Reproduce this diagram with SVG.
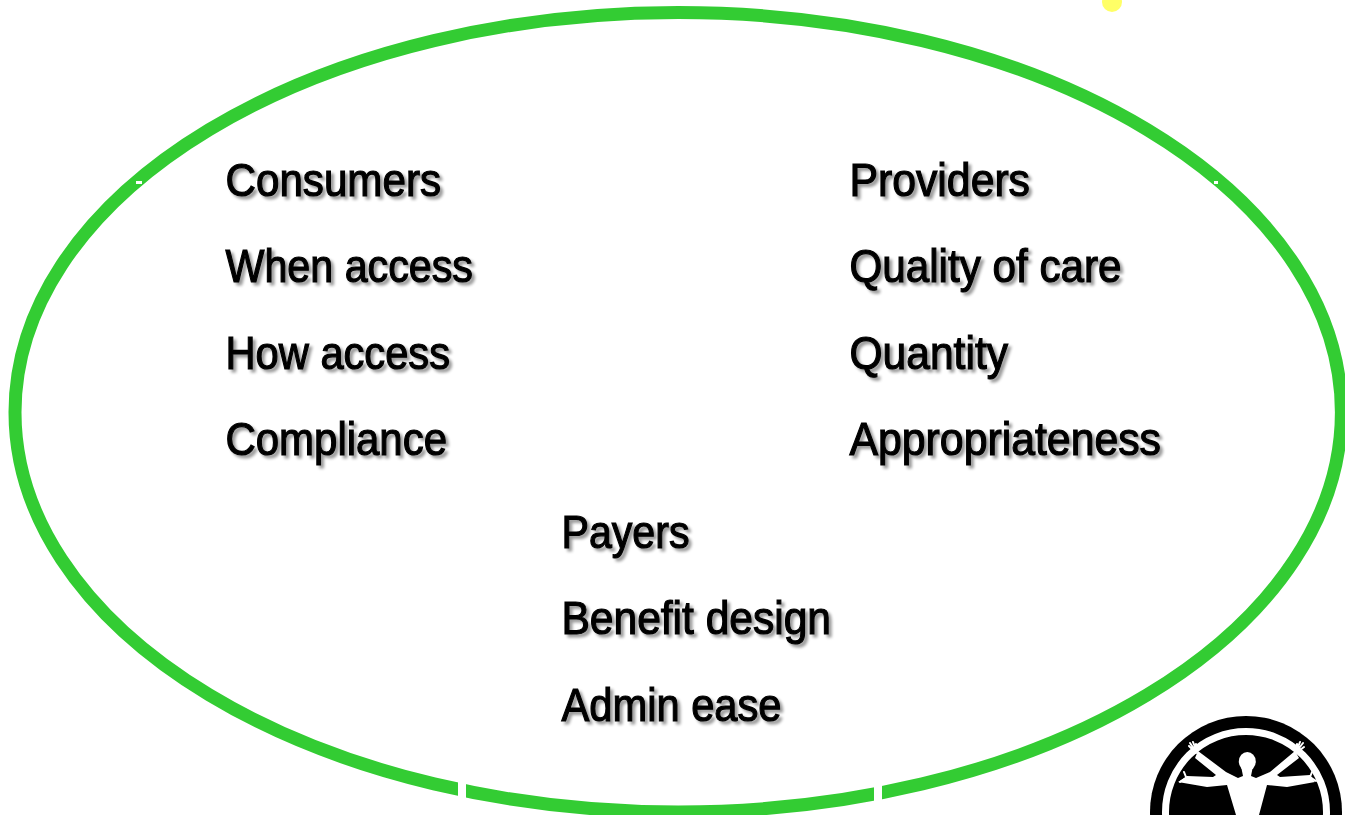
<svg xmlns="http://www.w3.org/2000/svg" width="1345" height="815" viewBox="0 0 1345 815">
<style>
.t{font-family:"Liberation Sans",Arial,sans-serif;font-size:46px;fill:#000;stroke:#000;stroke-width:1.2px;filter:url(#sh);}
.w{fill:#fff;}
.f{fill:none;stroke:#fff;stroke-width:2;stroke-linecap:round;}
</style>
<defs>
<filter id="sh" x="-10%" y="-20%" width="120%" height="150%">
<feGaussianBlur in="SourceAlpha" stdDeviation="1.8"/>
<feOffset dx="3" dy="3"/>
<feComponentTransfer><feFuncA type="linear" slope=".4"/></feComponentTransfer>
<feMerge><feMergeNode/><feMergeNode in="SourceGraphic"/></feMerge>
</filter>
</defs>
<rect width="1345" height="815" fill="#fff"/>
<circle id="dot" cx="1112" cy="2" r="10" fill="#ffff66"/>
<g id="ellipse">
<ellipse cx="678.200" cy="412.250" rx="663.200" ry="399.750" fill="none" stroke="#33cc33" stroke-width="13"/>
<rect class="w" x="458" y="770" width="8" height="34"/>
<rect class="w" x="874" y="770" width="8" height="34"/>
<rect class="w" x="136" y="181" width="6" height="3"/>
<rect class="w" x="1214" y="181" width="4" height="3"/>
</g>
<g id="consumers">
<text class="t" x="225.500" y="196" textLength="215.500" lengthAdjust="spacingAndGlyphs">Consumers</text>
<text class="t" x="225.500" y="282" textLength="247.500" lengthAdjust="spacingAndGlyphs">When access</text>
<text class="t" x="225.500" y="369" textLength="224.500" lengthAdjust="spacingAndGlyphs">How access</text>
<text class="t" x="225.500" y="455" textLength="221.500" lengthAdjust="spacingAndGlyphs">Compliance</text>
</g>
<g id="providers">
<text class="t" x="849.500" y="196" textLength="180.500" lengthAdjust="spacingAndGlyphs">Providers</text>
<text class="t" x="849.500" y="282" textLength="272" lengthAdjust="spacingAndGlyphs">Quality of care</text>
<text class="t" x="849.500" y="369" textLength="158.500" lengthAdjust="spacingAndGlyphs">Quantity</text>
<text class="t" x="849.500" y="455" textLength="311.500" lengthAdjust="spacingAndGlyphs">Appropriateness</text>
</g>
<g id="payers">
<text class="t" x="561.500" y="548" textLength="128" lengthAdjust="spacingAndGlyphs">Payers</text>
<text class="t" x="561.500" y="634" textLength="269.500" lengthAdjust="spacingAndGlyphs">Benefit design</text>
<text class="t" x="561.500" y="721" textLength="220" lengthAdjust="spacingAndGlyphs">Admin ease</text>
</g>
<g id="logo">
<circle cx="1246" cy="812" r="96" fill="#000"/>
<circle cx="1246" cy="812" r="80.500" fill="none" stroke="#fff" stroke-width="7"/>
<ellipse class="w" cx="1247.300" cy="761.500" rx="8.500" ry="9.500"/>
<path class="w" d="M1241 766L1243 776L1238 778L1226 772L1198 751L1195 758L1216 775L1213 777L1187 776L1178 782L1207 787L1227 785L1236 815L1259 815L1267 785L1287 787L1315 782L1310 775L1280 777L1277 775L1299 758L1295 751L1270 772L1256 778L1251 776L1253 766Z"/>
<path class="f" d="M1196 753L1189 746M1196 752L1190 743M1197 752L1193 742M1197 752L1196 744M1296 753L1304 747M1296 752L1303 743M1296 752L1300 742M1296 752L1297 744M1186 778L1180 782M1186 777L1184 772M1310 777L1316 781M1310 777L1312 772"/>
</g>
</svg>
